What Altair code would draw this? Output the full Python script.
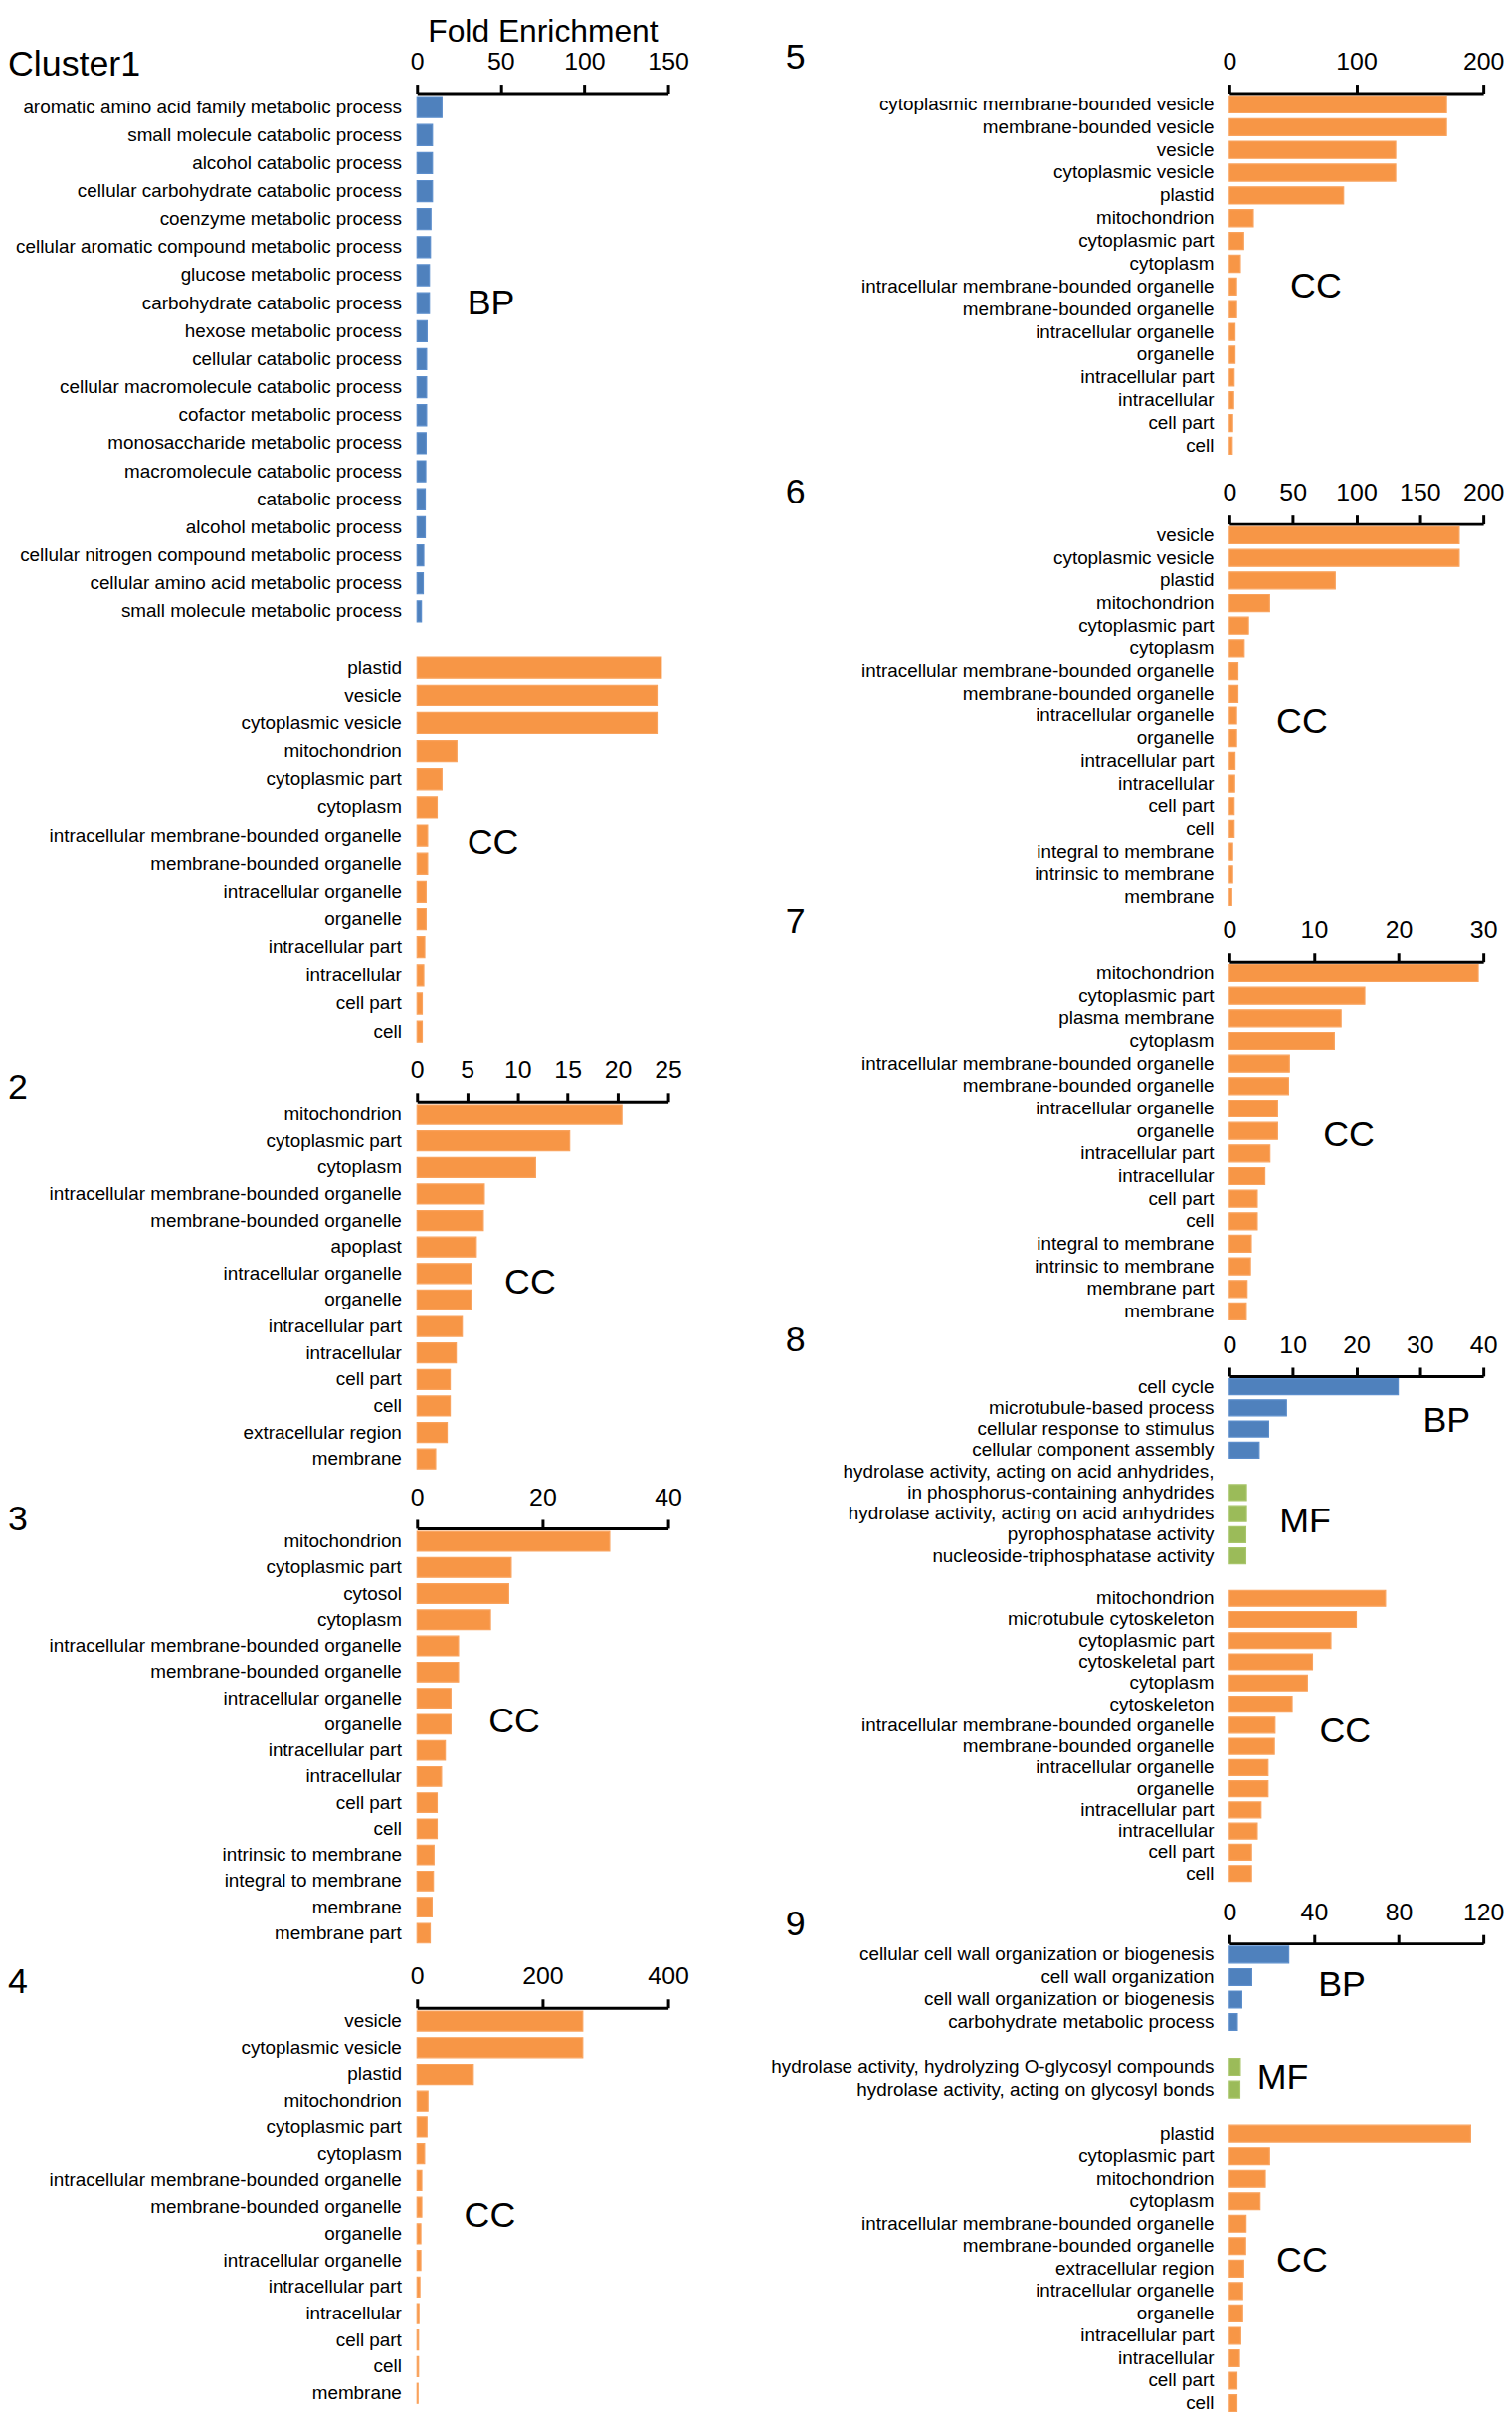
import altair as alt
import pandas as pd

FONT = "Liberation Sans"
GROUP_DOMAIN = ["BP", "MF", "CC"]
FILLS = ["#4F81BD", "#9BBB59", "#F79646"]
EDGES = ["#5B8DCB", "#A8C56A", "#F9A35E"]

# ---------------- Cluster 1 ----------------
C1_BP_LABELS = [
    "aromatic amino acid family metabolic process", "small molecule catabolic process",
    "alcohol catabolic process", "cellular carbohydrate catabolic process",
    "coenzyme metabolic process", "cellular aromatic compound metabolic process",
    "glucose metabolic process", "carbohydrate catabolic process", "hexose metabolic process",
    "cellular catabolic process", "cellular macromolecule catabolic process",
    "cofactor metabolic process", "monosaccharide metabolic process",
    "macromolecule catabolic process", "catabolic process", "alcohol metabolic process",
    "cellular nitrogen compound metabolic process", "cellular amino acid metabolic process",
    "small molecule metabolic process",
]
C1_BP_VALUES = [14.9, 9.2, 9.2, 9.2, 8.3, 8.0, 7.4, 7.4, 6.0, 5.7, 5.7, 5.7, 5.4, 5.2, 4.9, 4.9, 4.0, 3.7, 2.6]
C1_CC_LABELS = [
    "plastid", "vesicle", "cytoplasmic vesicle", "mitochondrion", "cytoplasmic part", "cytoplasm",
    "intracellular membrane-bounded organelle", "membrane-bounded organelle",
    "intracellular organelle", "organelle", "intracellular part", "intracellular", "cell part", "cell",
]
C1_CC_VALUES = [146, 143.4, 143.4, 23.8, 14.9, 12.0, 6.3, 6.3, 5.4, 5.4, 4.6, 4.0, 3.1, 3.1]

# ---------------- Cluster 2 ----------------
C2_CC_LABELS = [
    "mitochondrion", "cytoplasmic part", "cytoplasm", "intracellular membrane-bounded organelle",
    "membrane-bounded organelle", "apoplast", "intracellular organelle", "organelle",
    "intracellular part", "intracellular", "cell part", "cell", "extracellular region", "membrane",
]
C2_CC_VALUES = [20.4, 15.2, 11.8, 6.7, 6.6, 5.9, 5.4, 5.4, 4.5, 3.9, 3.3, 3.3, 3.0, 1.85]

# ---------------- Cluster 3 ----------------
C3_CC_LABELS = [
    "mitochondrion", "cytoplasmic part", "cytosol", "cytoplasm",
    "intracellular membrane-bounded organelle", "membrane-bounded organelle",
    "intracellular organelle", "organelle", "intracellular part", "intracellular", "cell part",
    "cell", "intrinsic to membrane", "integral to membrane", "membrane", "membrane part",
]
C3_CC_VALUES = [30.7, 15.0, 14.6, 11.7, 6.6, 6.6, 5.4, 5.4, 4.5, 3.9, 3.2, 3.2, 2.7, 2.6, 2.4, 2.1]

# ---------------- Cluster 4 ----------------
C4_CC_LABELS = [
    "vesicle", "cytoplasmic vesicle", "plastid", "mitochondrion", "cytoplasmic part", "cytoplasm",
    "intracellular membrane-bounded organelle", "membrane-bounded organelle", "organelle",
    "intracellular organelle", "intracellular part", "intracellular", "cell part", "cell", "membrane",
]
C4_CC_VALUES = [264, 264, 89.6, 17.3, 15.8, 12.0, 7.5, 7.5, 6.0, 6.0, 4.5, 3.0, 2.3, 2.3, 1.5]

# ---------------- Cluster 5 ----------------
C5_CC_LABELS = [
    "cytoplasmic membrane-bounded vesicle", "membrane-bounded vesicle", "vesicle",
    "cytoplasmic vesicle", "plastid", "mitochondrion", "cytoplasmic part", "cytoplasm",
    "intracellular membrane-bounded organelle", "membrane-bounded organelle",
    "intracellular organelle", "organelle", "intracellular part", "intracellular", "cell part", "cell",
]
C5_CC_VALUES = [171, 171, 131, 131, 90, 18.9, 11.3, 8.7, 5.7, 5.7, 4.5, 4.5, 3.8, 3.4, 2.6, 2.3]

# ---------------- Cluster 6 ----------------
C6_CC_LABELS = [
    "vesicle", "cytoplasmic vesicle", "plastid", "mitochondrion", "cytoplasmic part", "cytoplasm",
    "intracellular membrane-bounded organelle", "membrane-bounded organelle",
    "intracellular organelle", "organelle", "intracellular part", "intracellular", "cell part",
    "cell", "integral to membrane", "intrinsic to membrane", "membrane",
]
C6_CC_VALUES = [181, 181, 83.4, 31.7, 15.1, 11.7, 6.8, 6.8, 5.7, 5.7, 4.5, 4.2, 3.8, 3.8, 2.6, 2.6, 1.9]

# ---------------- Cluster 7 ----------------
C7_CC_LABELS = [
    "mitochondrion", "cytoplasmic part", "plasma membrane", "cytoplasm",
    "intracellular membrane-bounded organelle", "membrane-bounded organelle",
    "intracellular organelle", "organelle", "intracellular part", "intracellular", "cell part",
    "cell", "integral to membrane", "intrinsic to membrane", "membrane part", "membrane",
]
C7_CC_VALUES = [29.4, 16.0, 13.2, 12.4, 7.1, 7.0, 5.7, 5.7, 4.8, 4.2, 3.3, 3.3, 2.6, 2.5, 2.1, 2.0]

# ---------------- Cluster 8 ----------------
C8_BP_LABELS = ["cell cycle", "microtubule-based process", "cellular response to stimulus",
                "cellular component assembly"]
C8_BP_VALUES = [26.6, 9.0, 6.2, 4.7]
C8_MF_LABELS = [
    "hydrolase activity, acting on acid anhydrides,\nin phosphorus-containing anhydrides",
    "hydrolase activity, acting on acid anhydrides", "pyrophosphatase activity",
    "nucleoside-triphosphatase activity",
]
C8_MF_VALUES = [2.7, 2.7, 2.6, 2.6]
C8_CC_LABELS = [
    "mitochondrion", "microtubule cytoskeleton", "cytoplasmic part", "cytoskeletal part",
    "cytoplasm", "cytoskeleton", "intracellular membrane-bounded organelle",
    "membrane-bounded organelle", "intracellular organelle", "organelle", "intracellular part",
    "intracellular", "cell part", "cell",
]
C8_CC_VALUES = [24.6, 20.0, 16.0, 13.1, 12.3, 9.9, 7.2, 7.1, 6.1, 6.1, 5.0, 4.4, 3.5, 3.5]

# ---------------- Cluster 9 ----------------
C9_BP_LABELS = ["cellular cell wall organization or biogenesis", "cell wall organization",
                "cell wall organization or biogenesis", "carbohydrate metabolic process"]
C9_BP_VALUES = [28.1, 10.6, 5.9, 3.8]
C9_MF_LABELS = ["hydrolase activity, hydrolyzing O-glycosyl compounds",
                "hydrolase activity, acting on glycosyl bonds"]
C9_MF_VALUES = [5.2, 5.0]
C9_CC_LABELS = [
    "plastid", "cytoplasmic part", "mitochondrion", "cytoplasm",
    "intracellular membrane-bounded organelle", "membrane-bounded organelle",
    "extracellular region", "intracellular organelle", "organelle", "intracellular part",
    "intracellular", "cell part", "cell",
]
C9_CC_VALUES = [114, 19, 17, 14.5, 7.9, 7.7, 6.8, 6.3, 6.3, 5.4, 4.8, 3.6, 3.6]


def build_rows(groups):
    rows, recs, blank = [], [], 0
    for gi, (code, labels, values) in enumerate(groups):
        if gi > 0 and "\n" not in labels[0]:
            blank += 1
            rows.append(" " * blank)
        for lab, val in zip(labels, values):
            lines = lab.split("\n")
            rows.extend(lines)
            recs.append({"term": lines[-1], "fe": val, "grp": code})
    return rows, pd.DataFrame(recs)


def panel(title, title_dx, title_dy, groups, xmax, ticks, width, step, notes, axis_title=None):
    rows, df = build_rows(groups)
    height = round(len(rows) * step, 1)
    xscale = alt.Scale(domain=[0, xmax], nice=False)
    yscale = alt.Scale(domain=rows, paddingInner=0.25, paddingOuter=0.125)
    axis_kw = dict(
        orient="top", values=ticks, grid=False, domainColor="black", domainWidth=3,
        tickColor="black", tickWidth=3, tickSize=9, labelFontSize=25, labelFont=FONT,
        labelColor="black", labelPadding=10, labelFlush=False, labelOverlap=False,
    )
    if axis_title:
        xaxis = alt.Axis(title=axis_title, titleFont=FONT, titleFontSize=32,
                         titleFontWeight="normal", titleColor="black", titlePadding=1, **axis_kw)
    else:
        xaxis = alt.Axis(title=None, **axis_kw)
    yaxis = alt.Axis(title=None, domain=False, ticks=False, labelFontSize=19, labelFont=FONT,
                     labelColor="black", labelPadding=16, labelLimit=800)
    bars = alt.Chart(df).mark_bar(strokeWidth=1.2).encode(
        x=alt.X("fe:Q", scale=xscale, axis=xaxis),
        y=alt.Y("term:N", scale=yscale, axis=yaxis),
        color=alt.Color("grp:N", scale=alt.Scale(domain=GROUP_DOMAIN, range=FILLS), legend=None),
        stroke=alt.Stroke("grp:N", scale=alt.Scale(domain=GROUP_DOMAIN, range=EDGES), legend=None),
    )
    layers = [bars]
    for text, anchor, xval, frac in notes:
        nd = pd.DataFrame({"term": [anchor], "fe": [xval], "note": [text]})
        layers.append(
            alt.Chart(nd).mark_text(align="left", baseline="middle", font=FONT, fontSize=36,
                                    color="black", dy=frac * step).encode(
                x=alt.X("fe:Q", scale=xscale, axis=xaxis),
                y=alt.Y("term:N", scale=yscale, axis=yaxis),
                text="note:N",
            )
        )
    return alt.layer(*layers).properties(
        width=width, height=height,
        title=alt.TitleParams(text=title, anchor="start", frame="group", dx=title_dx, dy=title_dy,
                              fontSize=36, font=FONT, fontWeight="normal", color="black", offset=0),
    )


LW, RW = 254, 257
LDX, RDX = -414, -449

p1 = panel("Cluster1", LDX, 68, [("BP", C1_BP_LABELS, C1_BP_VALUES), ("CC", C1_CC_LABELS, C1_CC_VALUES)],
           150, [0, 50, 100, 150], LW, 28.34,
           [("BP", "carbohydrate catabolic process", 30, 0),
            ("CC", "intracellular membrane-bounded organelle", 30, 0.28)],
           axis_title="Fold Enrichment")
p2 = panel("2", LDX, 49, [("CC", C2_CC_LABELS, C2_CC_VALUES)], 25, [0, 5, 10, 15, 20, 25], LW, 26.8,
           [("CC", "intracellular organelle", 8.7, 0.35)])
p3 = panel("3", LDX, 54, [("CC", C3_CC_LABELS, C3_CC_VALUES)], 40, [0, 20, 40], LW, 26.43,
           [("CC", "organelle", 11.4, -0.1)])
p4 = panel("4", LDX, 37, [("CC", C4_CC_LABELS, C4_CC_VALUES)], 400, [0, 200, 400], LW, 26.9,
           [("CC", "membrane-bounded organelle", 75, 0.35)])

p5 = panel("5", RDX, 27, [("CC", C5_CC_LABELS, C5_CC_VALUES)], 200, [0, 100, 200], RW, 23.02,
           [("CC", "intracellular membrane-bounded organelle", 48, 0)])
p6 = panel("6", RDX, 31, [("CC", C6_CC_LABELS, C6_CC_VALUES)], 200, [0, 50, 100, 150, 200], RW, 22.84,
           [("CC", "intracellular organelle", 37, 0.27)])
p7 = panel("7", RDX, 23, [("CC", C7_CC_LABELS, C7_CC_VALUES)], 30, [0, 10, 20, 30], RW, 22.81,
           [("CC", "organelle", 11.1, 0.2)])
p8 = panel("8", RDX, 27, [("BP", C8_BP_LABELS, C8_BP_VALUES), ("MF", C8_MF_LABELS, C8_MF_VALUES),
                          ("CC", C8_CC_LABELS, C8_CC_VALUES)],
           40, [0, 10, 20, 30, 40], RW, 21.41,
           [("BP", "microtubule-based process", 30.5, 0.64),
            ("MF", "hydrolase activity, acting on acid anhydrides", 7.9, 0.36),
            ("CC", "intracellular membrane-bounded organelle", 14.2, 0.3)])
p9 = panel("9", RDX, 44, [("BP", C9_BP_LABELS, C9_BP_VALUES), ("MF", C9_MF_LABELS, C9_MF_VALUES),
                          ("CC", C9_CC_LABELS, C9_CC_VALUES)],
           120, [0, 40, 80, 120], RW, 22.68,
           [("BP", "cell wall organization", 42, 0.35),
            ("MF", "hydrolase activity, hydrolyzing O-glycosyl compounds", 13.1, 0.47),
            ("CC", "extracellular region", 22.2, -0.35)])

left_lower = alt.vconcat(p3, p4, spacing=62, bounds="flush")
left = alt.vconcat(p1, p2, left_lower, spacing=56, bounds="flush")
right_tail = alt.vconcat(p8, p9, spacing=60, bounds="flush")
right_lower = alt.vconcat(p6, p7, right_tail, spacing=54, bounds="flush")
right = alt.vconcat(p5, right_lower, spacing=67, bounds="flush")
chart = alt.hconcat(left, right, spacing=822, bounds="flush").properties(
    padding=0, background="white"
).configure_view(stroke=None)

chart.save("out.html", embed_options={"renderer": "svg", "actions": False})
